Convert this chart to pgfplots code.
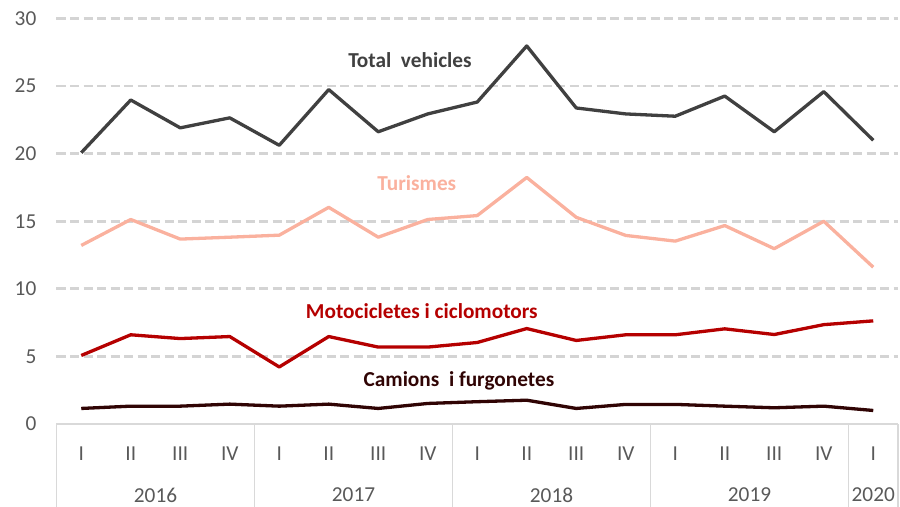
\documentclass[border=0pt]{standalone}
\usepackage{pgfplots}
\pgfplotsset{compat=1.18}
\usepackage{fontspec}
\setmainfont{Carlito}
\definecolor{tickgray}{HTML}{595959}
\definecolor{gridgray}{HTML}{D4D4D4}
\definecolor{sepgray}{HTML}{D9D9D9}
\definecolor{totalc}{HTML}{404040}
\definecolor{turc}{RGB}{250,177,158}
\definecolor{motoc}{HTML}{B50000}
\definecolor{camc}{RGB}{48,4,4}
\tikzset{
  yearlab/.style={anchor=center, inner sep=0pt, text=tickgray, font=\fontsize{21.3bp}{25bp}\selectfont, yshift=-71bp},
  sepline/.style={sepgray, line width=1.6bp},
  serlab/.style={anchor=base, inner sep=0pt, font=\fontsize{21.3bp}{25bp}\selectfont\bfseries},
}
\begin{document}
\begin{tikzpicture}[x=1bp,y=1bp]
\path[use as bounding box] (0,0) rectangle (900bp,507bp);
\begin{axis}[
  at={(56.5bp,83bp)}, anchor=south west,
  scale only axis, width=841.5bp, height=405.5bp,
  xmin=-0.5, xmax=16.5, ymin=0, ymax=30,
  axis line style={draw=none},
  clip=false,
  xtick={0,...,16},
  xticklabels={I,II,III,IV,I,II,III,IV,I,II,III,IV,I,II,III,IV,I},
  ytick={5,10,...,30},
  extra y ticks={0},
  extra y tick style={grid=none},
  major tick length=0pt,
  ymajorgrids,
  grid style={gridgray, line width=2.8bp, dash pattern=on 9bp off 4.5bp},
  major grid style={gridgray, line width=2.8bp, dash pattern=on 9bp off 4.5bp},
  /pgf/number format/assume math mode=true,
  tick label style={font=\fontsize{21.3bp}{25bp}\selectfont, text=tickgray},
  yticklabel style={anchor=east, inner sep=0pt, xshift=-20bp},
  xticklabel style={anchor=center, inner sep=0pt, yshift=-29.7bp},
  every axis plot/.append style={line width=3.3bp, line join=round, mark=none},
]
% axis line and separators
\draw[sepline] (axis cs:-0.5,0) -- (axis cs:16.5,0);
\draw[sepline] (axis cs:-0.5,0) -- ([yshift=-84bp]axis cs:-0.5,0);
\draw[sepline] (axis cs:3.5,0) -- ([yshift=-84bp]axis cs:3.5,0);
\draw[sepline] (axis cs:7.5,0) -- ([yshift=-84bp]axis cs:7.5,0);
\draw[sepline] (axis cs:11.5,0) -- ([yshift=-84bp]axis cs:11.5,0);
\draw[sepline] (axis cs:15.5,0) -- ([yshift=-84bp]axis cs:15.5,0);
\draw[sepline] (axis cs:16.5,0) -- ([yshift=-84bp]axis cs:16.5,0);
\addplot[camc] coordinates {(0,1.15)(1,1.32)(2,1.32)(3,1.47)(4,1.32)(5,1.47)(6,1.15)(7,1.52)(8,1.65)(9,1.76)(10,1.15)(11,1.45)(12,1.45)(13,1.32)(14,1.2)(15,1.32)(16,1.0)};
\addplot[motoc] coordinates {(0,5.07)(1,6.6)(2,6.32)(3,6.47)(4,4.22)(5,6.47)(6,5.69)(7,5.69)(8,6.03)(9,7.06)(10,6.18)(11,6.6)(12,6.6)(13,7.04)(14,6.62)(15,7.35)(16,7.63)};
\addplot[turc] coordinates {(0,13.21)(1,15.13)(2,13.68)(3,13.82)(4,13.97)(5,16.03)(6,13.82)(7,15.13)(8,15.42)(9,18.24)(10,15.29)(11,13.95)(12,13.53)(13,14.68)(14,12.97)(15,15.0)(16,11.6)};
\addplot[totalc] coordinates {(0,20.07)(1,23.97)(2,21.91)(3,22.65)(4,20.62)(5,24.74)(6,21.62)(7,22.94)(8,23.82)(9,27.97)(10,23.38)(11,22.94)(12,22.77)(13,24.26)(14,21.62)(15,24.59)(16,20.99)};
% year labels
\node[yearlab] at (axis cs:1.5,0) {2016};
\node[yearlab] at (axis cs:5.5,0) {2017};
\node[yearlab] at (axis cs:9.5,0) {2018};
\node[yearlab] at (axis cs:13.5,0) {2019};
\node[yearlab] at (axis cs:16,0) {2020};
% series labels
\node[serlab, text=totalc] at (axis cs:6.64,26.4) {Total\ \ vehicles};
\node[serlab, text=turc] at (axis cs:6.78,17.26) {Turismes};
\node[serlab, text=motoc] at (axis cs:6.88,7.82) {Motocicletes i ciclomotors};
\node[serlab, text=camc] at (axis cs:7.63,2.77) {Camions\ \ i furgonetes};
\end{axis}
\end{tikzpicture}
\end{document}
